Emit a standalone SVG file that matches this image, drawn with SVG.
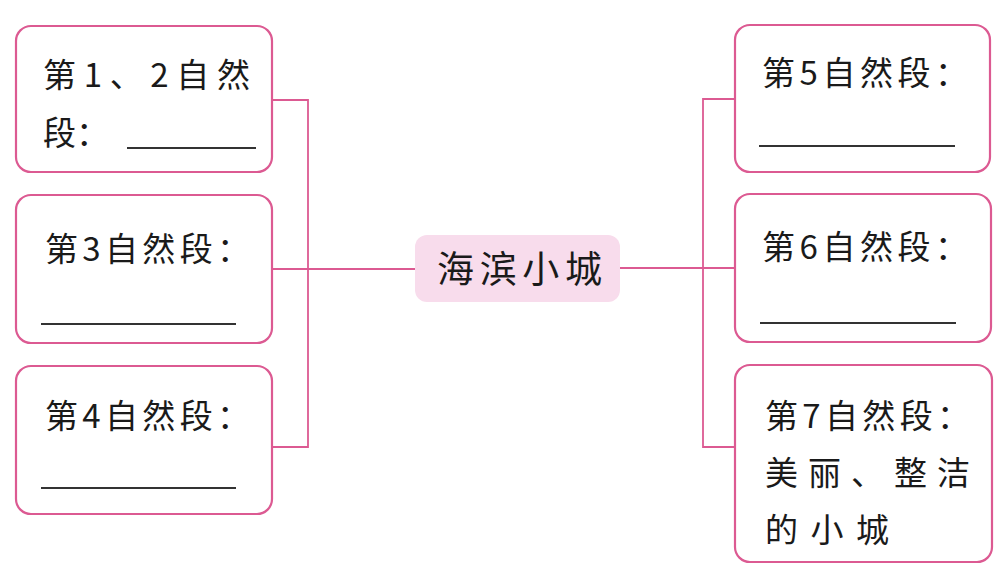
<svg xmlns="http://www.w3.org/2000/svg" width="1000" height="567" viewBox="0 0 1000 567">
<style>
.box{fill:#ffffff;stroke:#dc5a92;stroke-width:2.2}
.center{fill:#f8dcec;stroke:none}
.conn{fill:none;stroke:#dc5a92;stroke-width:1.8}
.t{font-family:"Noto Sans CJK SC","Noto Sans",sans-serif;font-size:33px;fill:#1a1a1a}
.ct{font-family:"Noto Sans CJK SC","Noto Sans",sans-serif;font-size:37px;fill:#1a1a1a}
.ul{stroke:#333;stroke-width:1.8}
</style>
<rect width="1000" height="567" fill="#ffffff"/>
<g id="connectors">
<path class="conn" d="M272 100 H308 V447 H272 M272 269 H415"/>
<path class="conn" d="M735 99 H703 V447 H735 M735 268 H620"/>
</g>
<g id="center">
<rect class="center" x="415" y="235" width="205" height="67" rx="12"/>
<text class="ct" x="437" y="283" textLength="165" lengthAdjust="spacing">海滨小城</text>
</g>
<g id="p12">
<rect class="box" x="16" y="26" width="256" height="146" rx="15"/>
<text class="t" x="43" y="87" textLength="207" lengthAdjust="spacing">第1、2自然</text>
<text class="t" x="43" y="145">段：</text>
<line class="ul" x1="127" y1="148" x2="256" y2="148"/>
</g>
<g id="p3">
<rect class="box" x="16" y="195" width="256" height="148" rx="15"/>
<text class="t" x="45" y="261" textLength="205" lengthAdjust="spacing">第3自然段：</text>
<line class="ul" x1="41" y1="324" x2="236" y2="324"/>
</g>
<g id="p4">
<rect class="box" x="16" y="366" width="256" height="148" rx="15"/>
<text class="t" x="45" y="428" textLength="205" lengthAdjust="spacing">第4自然段：</text>
<line class="ul" x1="41" y1="488" x2="236" y2="488"/>
</g>
<g id="p5">
<rect class="box" x="735" y="25" width="255" height="147" rx="15"/>
<text class="t" x="762" y="85" textLength="206" lengthAdjust="spacing">第5自然段：</text>
<line class="ul" x1="759" y1="146" x2="955" y2="146"/>
</g>
<g id="p6">
<rect class="box" x="735" y="194" width="256" height="148" rx="15"/>
<text class="t" x="762" y="259" textLength="206" lengthAdjust="spacing">第6自然段：</text>
<line class="ul" x1="760" y1="323" x2="956" y2="323"/>
</g>
<g id="p7">
<rect class="box" x="735" y="365" width="257" height="197" rx="15"/>
<text class="t" x="765" y="428" textLength="205" lengthAdjust="spacing">第7自然段：</text>
<text class="t" x="765" y="485" textLength="205" lengthAdjust="spacing">美丽、整洁</text>
<text class="t" x="765" y="542" textLength="124" lengthAdjust="spacing">的小城</text>
</g>
</svg>
